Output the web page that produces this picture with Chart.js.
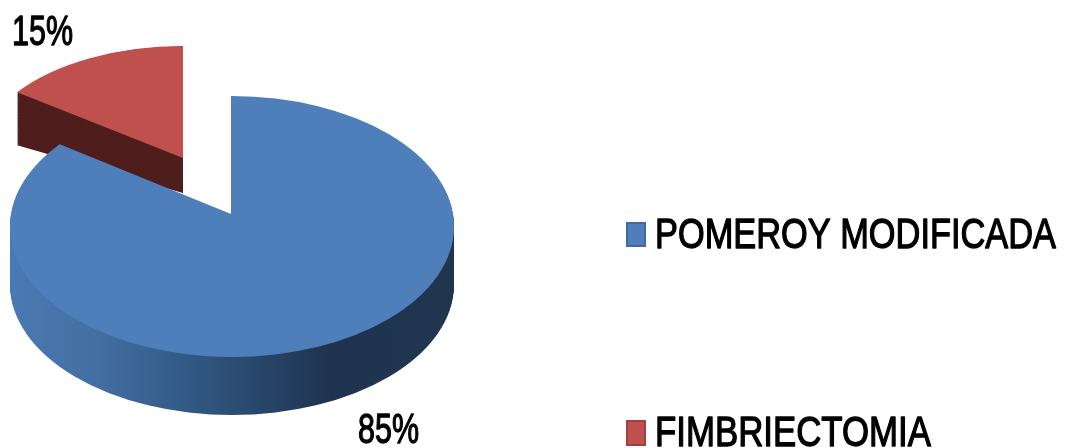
<!DOCTYPE html>
<html>
<head>
<meta charset="utf-8">
<style>html,body{margin:0;padding:0;background:#fff;overflow:hidden}canvas{display:block}</style>
<script src="https://cdn.jsdelivr.net/npm/chart.js@4"></script>
</head>
<body>
<canvas id="c" width="1067" height="448"></canvas>
<script>
const categories = ['POMEROY MODIFICADA', 'FIMBRIECTOMIA'];
const values = [85, 15];
const colors = ['#4f7fbb', '#bf504d'];
const legendBorders = ['#41699b', '#a03f3c'];
const FONT = '42px "Liberation Sans"';

function txt(ctx, s, x, y, w) {
  ctx.save();
  ctx.filter = 'blur(0.5px)';
  ctx.font = FONT; ctx.fillStyle = '#000'; ctx.strokeStyle = '#000';
  ctx.lineWidth = 1.3; ctx.lineJoin = 'round'; ctx.textBaseline = 'alphabetic'; ctx.textAlign = 'left';
  ctx.fillText(s, x, y, w); ctx.strokeText(s, x, y, w);
  ctx.restore();
}
function paint(arc, ctx, fill) {
  const p = Object.create(arc);
  p.options = Object.assign({}, arc.options, {backgroundColor: fill, borderWidth: 0});
  p.draw(ctx);
}
const pie3d = {
  id: 'pie3d',
  beforeDatasetsDraw(chart) {
    const ctx = chart.ctx;
    const [blue, red] = chart.getDatasetMeta(0).data;
    const R = blue.outerRadius;
    // red slice: pulled out, sheared wall
    const rC = {x: 183, y: 158, rx: 205, ry: 112};
    const redBase = () => {
      ctx.translate(rC.x, rC.y); ctx.scale(rC.rx / R, rC.ry / R); ctx.translate(-red.x, -red.y);
    };
    const k = 18 / 166;
    for (let i = 60; i >= 1; i--) {
      const t = i / 60;
      ctx.save();
      ctx.transform(1, -t * k, 0, 1, 0, t * (35 + 183 * k));
      redBase();
      paint(red, ctx, '#4f1f1d');
      ctx.restore();
    }
    ctx.save(); redBase(); paint(red, ctx, colors[1]); ctx.restore();

    // blue slice: perspective moves the apex off the rim ellipse's centre,
    // so the sector is drawn oversized and trimmed to the rim ellipse
    const apex = {x: 231, y: 214, rx: 300, ry: 168};
    const rim = {x: 232, y: 226.5, rx: 222, ry: 130.5};
    const drawBlue = (d, fill) => {
      ctx.save();
      ctx.beginPath(); ctx.ellipse(rim.x, rim.y + d, rim.rx, rim.ry, 0, 0, Math.PI * 2); ctx.clip();
      ctx.translate(apex.x, apex.y + d); ctx.scale(apex.rx / R, apex.ry / R); ctx.translate(-blue.x, -blue.y);
      paint(blue, ctx, fill);
      ctx.restore();
    };
    const ax = sx => blue.x + (sx - apex.x) * R / apex.rx;
    const g = ctx.createLinearGradient(ax(10), 0, ax(454), 0);
    [[10, '#4a7ab2'], [100, '#436ea2'], [200, '#305680'], [330, '#1f3350'], [454, '#20364f']]
      .forEach(([x, c]) => g.addColorStop((x - 10) / 444, c));
    for (let d = 58; d >= 1; d--) drawBlue(d, g);
    drawBlue(0, colors[0]);

    // value labels
    const total = values.reduce((a, b) => a + b, 0);
    txt(ctx, Math.round(values[1] / total * 100) + '%', 12, 45, 61);
    txt(ctx, Math.round(values[0] / total * 100) + '%', 358, 443, 61);

    // legend
    const lg = [[627, 223, 18, 23, 655, 248, 401], [627, 421, 18, 24, 655, 446, 276]];
    lg.forEach((l, i) => {
      ctx.fillStyle = colors[i]; ctx.strokeStyle = legendBorders[i]; ctx.lineWidth = 2;
      ctx.fillRect(l[0], l[1], l[2], l[3]); ctx.strokeRect(l[0], l[1], l[2], l[3]);
      txt(ctx, categories[i], l[4], l[5], l[6]);
    });
    return false;
  }
};
new Chart(document.getElementById('c'), {
  type: 'pie',
  data: {labels: categories, datasets: [{data: values, backgroundColor: colors, borderWidth: 0}]},
  options: {
    responsive: false, animation: false,
    layout: {padding: 0},
    plugins: {legend: {display: false}, tooltip: {enabled: false}, title: {display: false}}
  },
  plugins: [pie3d]
});
</script>
</body>
</html>
